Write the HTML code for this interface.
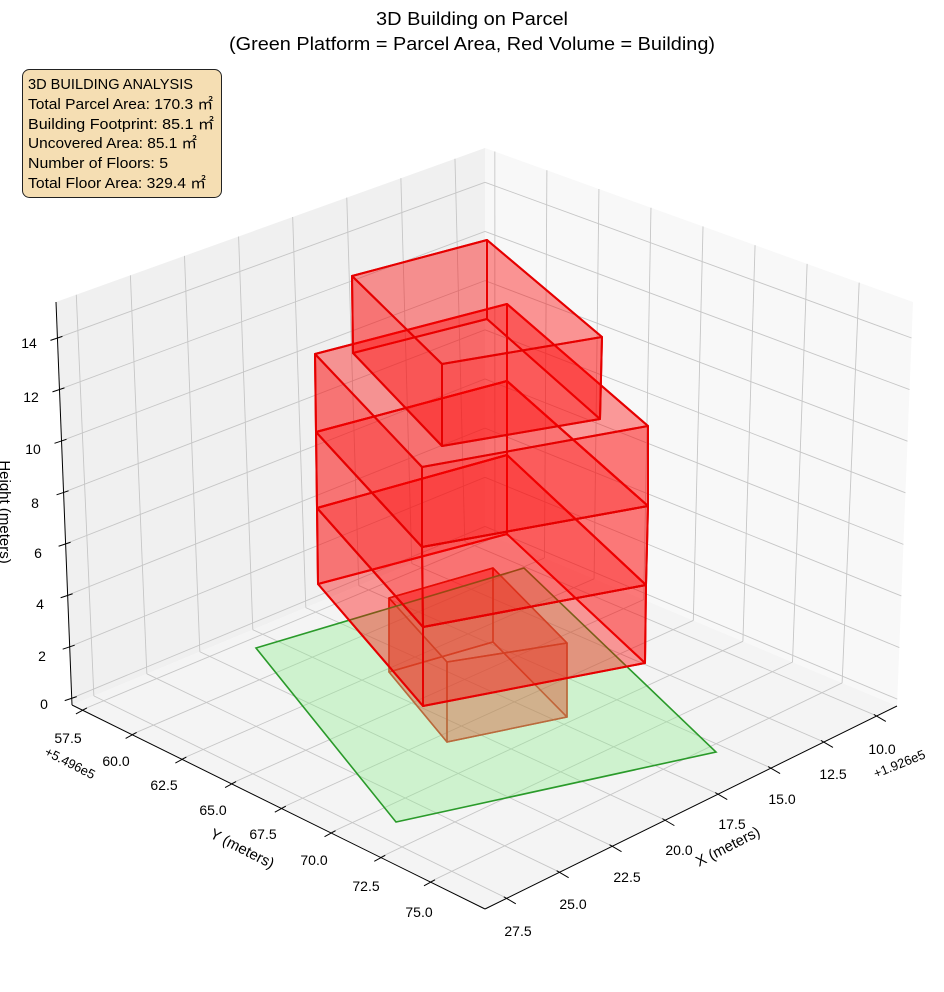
<!DOCTYPE html>
<html><head><meta charset="utf-8">
<style>html,body{margin:0;padding:0;background:#fff;}svg{display:block;}
text{font-family:"Liberation Sans","Noto Sans CJK JP",sans-serif;fill:#000;}</style></head>
<body>
<svg id="s" width="944" height="992" viewBox="0 0 944 992" xmlns="http://www.w3.org/2000/svg">
<g id="panes"></g><g id="grid" stroke="#c6c6c6" stroke-width="0.9" fill="none"></g>
<g id="spines" stroke="#000" stroke-width="1" fill="none"></g>
<g id="data"></g>
<g id="labels" font-size="14"></g>
<text x="472" y="25" font-size="18" text-anchor="middle" textLength="192" lengthAdjust="spacingAndGlyphs">3D Building on Parcel</text>
<text x="472" y="50" font-size="18" text-anchor="middle" textLength="486" lengthAdjust="spacingAndGlyphs">(Green Platform = Parcel Area, Red Volume = Building)</text>
<rect x="22.5" y="69.5" width="199" height="128" rx="7" fill="#f5deb3" stroke="#222" stroke-width="1"/>
<g font-size="15">
<text x="28" y="89" textLength="165" lengthAdjust="spacingAndGlyphs">3D BUILDING ANALYSIS</text>
<text x="28" y="109" textLength="185" lengthAdjust="spacingAndGlyphs">Total Parcel Area: 170.3 ㎡</text>
<text x="28" y="129" textLength="186" lengthAdjust="spacingAndGlyphs">Building Footprint: 85.1 ㎡</text>
<text x="28" y="148" textLength="169" lengthAdjust="spacingAndGlyphs">Uncovered Area: 85.1 ㎡</text>
<text x="28" y="168" textLength="140" lengthAdjust="spacingAndGlyphs">Number of Floors: 5</text>
<text x="28" y="188" textLength="178" lengthAdjust="spacingAndGlyphs">Total Floor Area: 329.4 ㎡</text>
</g>
</svg>
<script>
(function(){
var NS="http://www.w3.org/2000/svg";
function el(p,t,a,txt){var e=document.createElementNS(NS,t);for(var k in a)e.setAttribute(k,a[k]);if(txt!==undefined)e.textContent=txt;document.getElementById(p).appendChild(e);return e;}
function L(P,Q,f){return [P[0]+(Q[0]-P[0])*f,P[1]+(Q[1]-P[1])*f];}
function pts(a){return a.map(function(p){return p[0].toFixed(1)+","+p[1].toFixed(1)}).join(" ");}
var A=[56,302],B=[485,148],C=[913,302],D=[72,705],E=[485,533],F=[897,706],G=[485,909];
el("panes","polygon",{points:pts([A,B,E,D]),fill:"#f0f0f0"});
el("panes","polygon",{points:pts([B,C,F,E]),fill:"#f8f8f8"});
el("panes","polygon",{points:pts([D,E,F,G]),fill:"#f4f4f4"});
function line(g,P,Q,extra){var a={x1:P[0],y1:P[1],x2:Q[0],y2:Q[1]};for(var k in extra)a[k]=extra[k];el(g,"line",a);}
var i;
for(i=0;i<8;i++){var fz=0.017+i*0.1277;
 var pl=L(D,A,fz),pb=L(E,B,fz),pr=L(F,C,fz);
 line("grid",pl,pb);line("grid",pb,pr);
 line("spines",[pl[0]-7,pl[1]+2.5],[pl[0]+5,pl[1]-1.5]);
 var zy=[704,656,604,553,503,449,397,343][i],zx=[44,42,40,38,35,33,31,29][i];
 el("labels","text",{x:zx,y:zy+5,"text-anchor":"middle"},String(i*2));
}
var xl=[[882,749],[833,774],[782,799],[732,824],[679,850],[627,877],[573,904],[518,931]];
for(i=0;i<8;i++){var ft=0.07+i*0.1261,fb=0.049+i*0.1283;
 var t=L(B,A,ft),b=L(E,D,fb),f=L(F,G,fb);
 line("grid",t,b);line("grid",b,f);
 line("spines",[f[0]-3,f[1]-1.5],[f[0]+9,f[1]+5.5]);
 el("labels","text",{x:xl[i][0],y:xl[i][1]+5,"text-anchor":"middle"},(10+2.5*i).toFixed(1));
}
var yl=[[68,738],[116,761],[164,785],[213,810],[263,834],[314,860],[366,886],[419,912]];
for(i=0;i<8;i++){var ft2=0.023+i*0.1216,fb2=0.024+i*0.1204;
 var t2=L(B,C,ft2),b2=L(E,F,fb2),d2=L(D,G,fb2);
 line("grid",t2,b2);line("grid",b2,d2);
 line("spines",[d2[0]-6,d2[1]+4],[d2[0]+5,d2[1]-2]);
 el("labels","text",{x:yl[i][0],y:yl[i][1]+5,"text-anchor":"middle"},(57.5+2.5*i).toFixed(1));
}
line("spines",A,D);line("spines",D,G);line("spines",G,F);
el("labels","text",{x:0,y:0,"text-anchor":"middle",transform:"translate(68,767) rotate(27)","font-size":"13"},"+5.496e5");
el("labels","text",{x:0,y:0,"text-anchor":"middle",transform:"translate(901,768) rotate(-22)","font-size":"13"},"+1.926e5");
el("labels","text",{x:0,y:0,"text-anchor":"middle",transform:"translate(240,853) rotate(27)","font-size":"15"},"Y (meters)");
el("labels","text",{x:0,y:0,"text-anchor":"middle",transform:"translate(730,851) rotate(-27)","font-size":"15"},"X (meters)");
el("labels","text",{x:0,y:0,"text-anchor":"middle",transform:"translate(0,512) rotate(90)","font-size":"15"},"Height (meters)");

function box(T,Bo,edge,sw,topA,sideA){
 var faces=[[Bo,0],[ [T[0],T[1],Bo[1],Bo[0]],1],[[T[1],T[2],Bo[2],Bo[1]],1],[[T[2],T[3],Bo[3],Bo[2]],1],[[T[3],T[0],Bo[0],Bo[3]],1],[T,0]];
 faces.forEach(function(fc){el("data","polygon",{points:pts(fc[0]),fill:"rgb(255,0,0)","fill-opacity":fc[1]?sideA:topA,stroke:edge,"stroke-width":sw,"stroke-linejoin":"round"});});
}
box([[389,598],[493,568],[567,643],[447,662]],[[389,672],[493,642],[567,717],[447,742]],"#d21a0a",1.5,0.18,0.3);
el("data","polygon",{points:"256,648 524,568 716,752 396,822",fill:"rgb(144,238,144)","fill-opacity":"0.38",stroke:"#2a9a2a","stroke-width":"1.6"});
var lv=[[[318,584],[507,534],[645,663],[423,706]],[[317,508],[507,455],[646,585],[423,627]],[[316,432],[507,381],[648,506],[422,547]],[[315,354],[507,304],[648,426],[422,467]]];
for(i=0;i<3;i++)box(lv[i+1],lv[i],"#e60000",2,0.12,0.3);
box([[352,276],[487,240],[602,337],[442,364]],[[353,353],[487,319],[600,419],[442,446]],"#e60000",2,0.15,0.3);
})();
</script>
</body></html>
